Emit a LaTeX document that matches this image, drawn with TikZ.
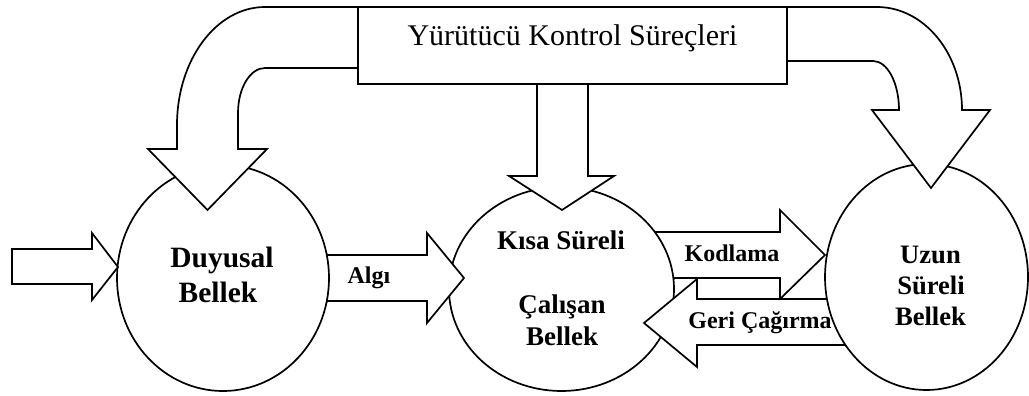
\documentclass[tikz,border=0pt]{standalone}
\usepackage{fontspec}
\setmainfont{Liberation Serif}
\usetikzlibrary{shapes.geometric}
\tikzset{
  outl/.style={draw=black, line width=1.7pt, line join=miter},
  blockarrow/.style={outl, fill=white},
  mem/.style={ellipse, outl, fill=white, inner sep=0pt, outer sep=0pt},
  boxstyle/.style={rectangle, outl, fill=white, inner sep=0pt, outer sep=0pt},
  lblT/.style={font=\fontsize{30}{36}\selectfont, inner sep=0pt, anchor=base},
  lblD/.style={font=\fontsize{29.5}{34}\selectfont\bfseries, inner sep=0pt, anchor=base},
  lblK/.style={font=\fontsize{27}{32}\selectfont\bfseries, inner sep=0pt, anchor=base},
  lblU/.style={font=\fontsize{26.6}{31}\selectfont\bfseries, inner sep=0pt, anchor=base},
  lblA/.style={font=\fontsize{24}{28}\selectfont\bfseries, inner sep=0pt, anchor=base},
}
\begin{document}
\begin{tikzpicture}[x=1pt,y=-1pt]
\useasboundingbox (0,0) rectangle (1029,396);
\fill[white] (0,0) rectangle (1029,396);

% memory circles
\node[mem, minimum width=212pt, minimum height=226pt] (duy) at (223,278) {};
\node[mem, minimum width=225pt, minimum height=204pt] (kisa) at (561.5,289) {};
\node[mem, minimum width=203pt, minimum height=226pt] (uzun) at (926.5,277) {};

% bent arrow to Duyusal Bellek
\draw[blockarrow] (358,7) -- (265,7) .. controls (216.4,7) and (177,59.8) .. (177,125)
  -- (177,149) -- (148,149) -- (207.5,210) -- (267,149) -- (238,149) -- (238,113)
  .. controls (238,88.1) and (250.1,68) .. (265,68) -- (358,68) -- cycle;
% bent arrow to Uzun Sureli Bellek
\draw[blockarrow] (787,7) -- (877,7) .. controls (923.9,7) and (962,53.1) .. (962,110)
  -- (990,110) -- (931,188) -- (872,110) -- (899,110)
  .. controls (899,82.9) and (887.4,61) .. (873,61) -- (787,61) -- cycle;
% straight arrow to Kisa Sureli
\draw[blockarrow] (537,84) -- (537,176) -- (509,176) -- (562,210) -- (614,176)
  -- (588,176) -- (588,84) -- cycle;

% executive control box
\node[boxstyle, minimum width=429pt, minimum height=77pt] (ykp) at (572.5,45.5) {};

% input arrow
\draw[blockarrow] (12,249) -- (92,249) -- (92,233) -- (118,267) -- (92,300)
  -- (92,284) -- (12,284) -- cycle;
% Algi arrow
\draw[blockarrow] (310,255) -- (427,255) -- (427,233) -- (464,278) -- (427,323)
  -- (427,301) -- (310,301) -- cycle;
\begin{scope}
  \clip (300,253.5) rectangle (420,302.5);
  \draw[outl, fill=white] (duy.center) ellipse [x radius=106, y radius=113];
\end{scope}
% Kodlama arrow
\draw[blockarrow] (630,232) -- (780,232) -- (780,210) -- (825,255) -- (780,299)
  -- (780,278) -- (630,278) -- cycle;
\begin{scope}
  \clip (620,230.5) rectangle (700,279.5);
  \draw[outl, fill=white] (kisa.center) ellipse [x radius=112.5, y radius=102];
\end{scope}
% Geri Cagirma arrow
\draw[blockarrow] (860,299) -- (697,299) -- (697,279) -- (644,323) -- (697,367)
  -- (697,345) -- (860,345) -- cycle;
\begin{scope}
  \clip (800,297.5) rectangle (880,346.5);
  \draw[outl, fill=white] (uzun.center) ellipse [x radius=101.5, y radius=113];
\end{scope}

% texts
\node[lblT] (tY) at (572.5,46) {Yürütücü Kontrol Süreçleri};
\node[lblD] (tD1) at (222,267) {Duyusal};
\node[lblD] (tD2) at (218,302) {Bellek};
\node[lblK] (tK1) at (561,249) {Kısa Süreli};
\node[lblK] (tK2) at (562,313) {Çalışan};
\node[lblK] (tK3) at (562,345) {Bellek};
\node[lblU] (tU1) at (930.5,263) {Uzun};
\node[lblU] (tU2) at (931,294) {Süreli};
\node[lblU] (tU3) at (930.5,325) {Bellek};
\node[lblA] (tA) at (369,283) {Algı};
\node[lblA] (tKod) at (732,261) {Kodlama};
\node[lblA] (tG) at (760,328) {Geri Çağırma};
\end{tikzpicture}
\end{document}
